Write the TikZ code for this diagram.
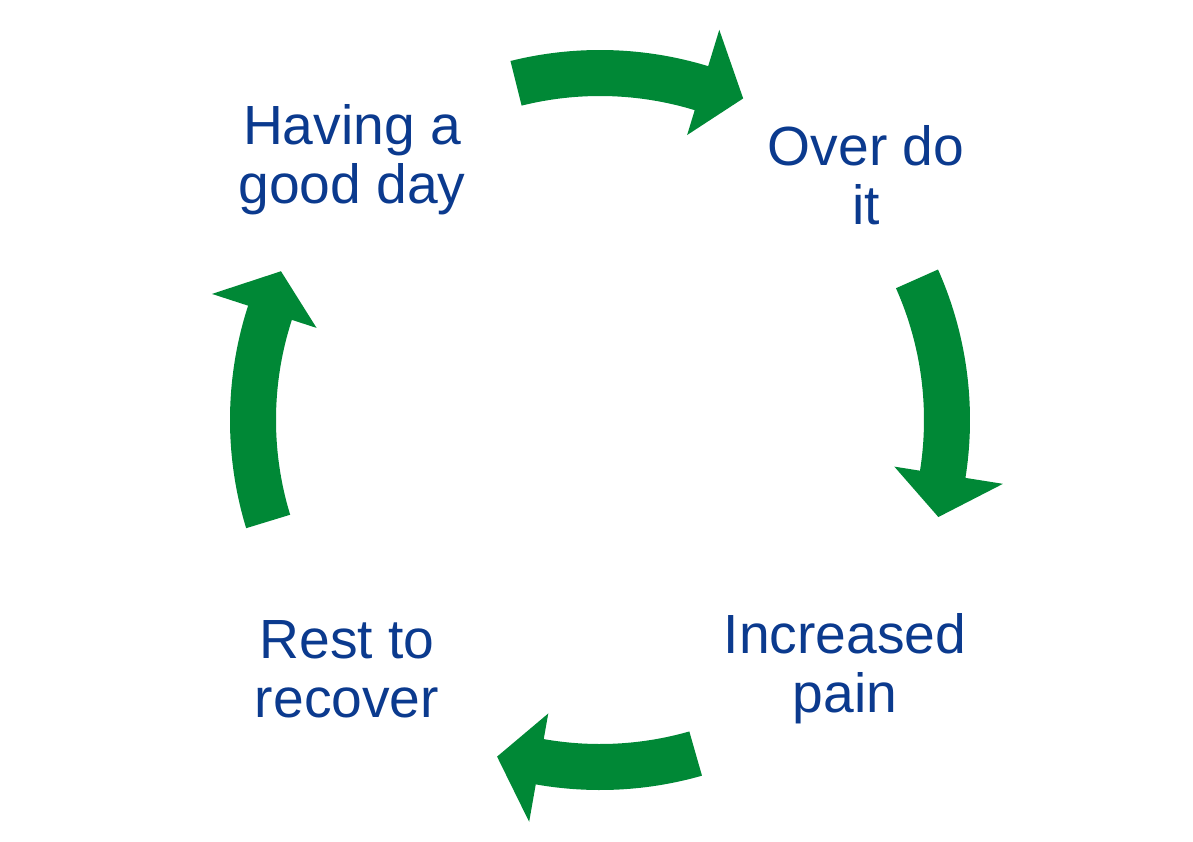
\documentclass[tikz,border=0pt]{standalone}
\usepackage{fontspec}
\setmainfont{Liberation Sans}
\definecolor{arrowgreen}{HTML}{008836}
\definecolor{txtblue}{HTML}{0B3A8E}
\newcommand{\cyclearrow}[4]{% name, start, headbase, tip
  \fill[arrowgreen] (#2:370) arc[start angle=#2, end angle=#3, radius=370]
    -- (#3:408) -- (#4:352) -- (#3:298) -- (#3:324)
    arc[start angle=#3, end angle=#2, radius=324] -- cycle;}
\begin{document}
\begin{tikzpicture}[x=0.01cm,y=0.01cm,
  lbl/.style={font=\fontsize{15.7pt}{16.8pt}\selectfont, text=txtblue, align=center}]
\useasboundingbox (0,0) rectangle (1193,841);
\begin{scope}[shift={(600,421)}]
\cyclearrow{a1}{104}{73}{66}
\cyclearrow{a2}{24}{-9}{-16}
\cyclearrow{a3}{-74}{-100}{-107}
\cyclearrow{a4}{197}{162}{155}
\end{scope}
\node[lbl] (good) at (352,681) {Having a\\good day};
\node[lbl] (over) at (866,666) {Over do\\it};
\node[lbl] (pain) at (845,172) {Increased\\pain};
\node[lbl] (rest) at (347,172) {Rest to\\recover};
\end{tikzpicture}
\end{document}
